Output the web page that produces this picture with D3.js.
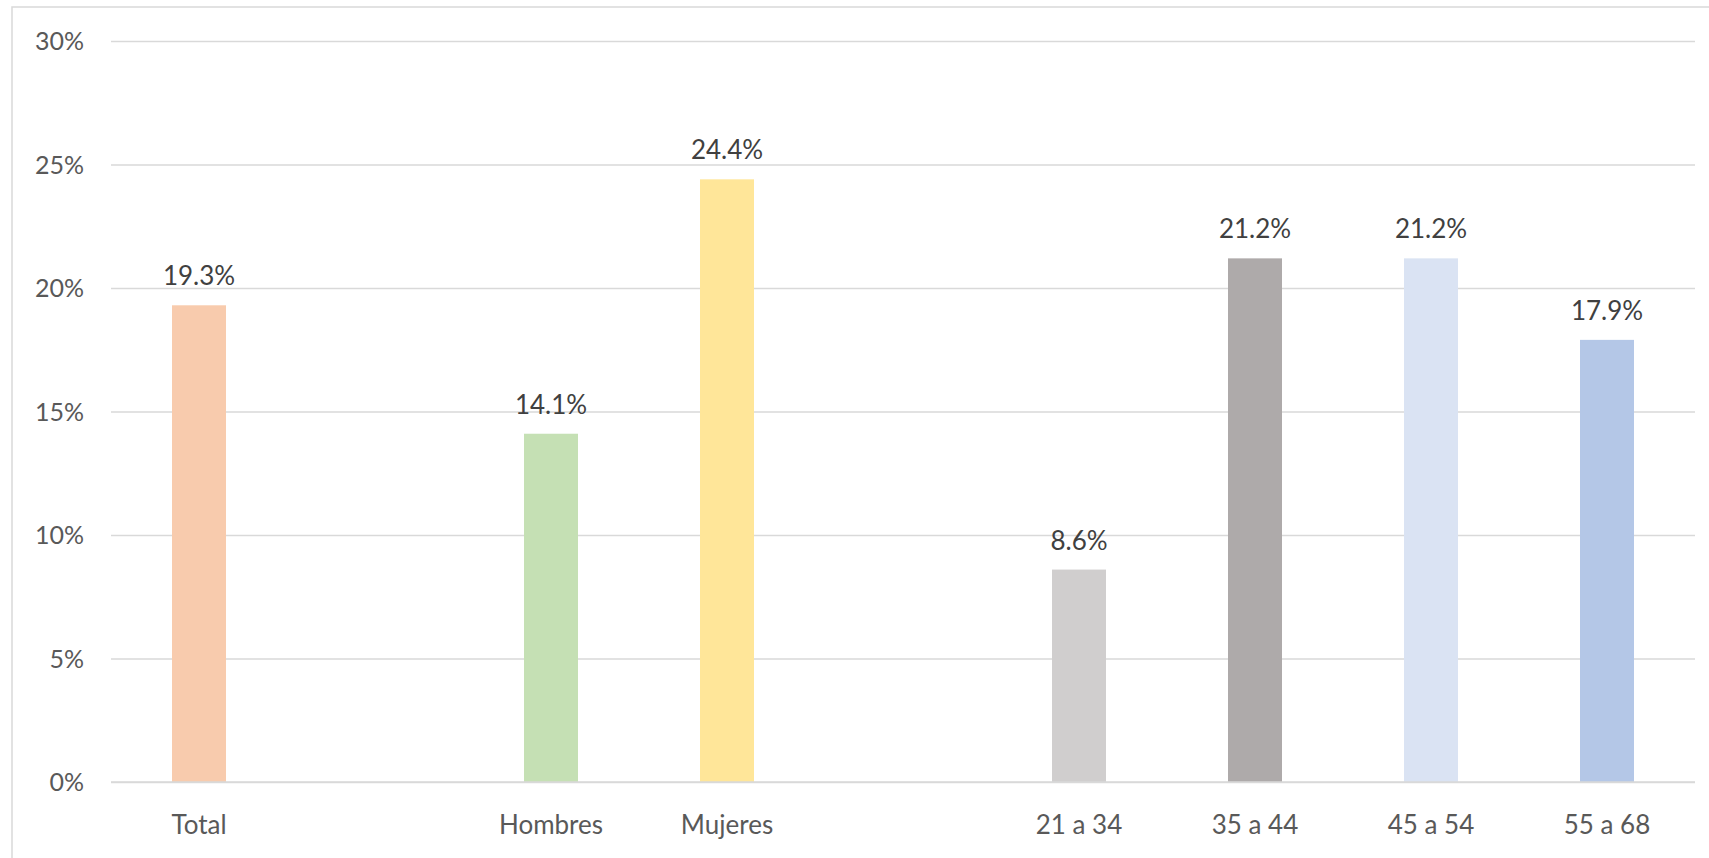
<!DOCTYPE html>
<html>
<head>
<meta charset="utf-8">
<script src="https://cdn.jsdelivr.net/npm/d3@7/dist/d3.min.js"></script>
<style>
  html, body { margin: 0; padding: 0; background: #fff; }
  svg { display: block; }
  text { font-family: Lato, "Open Sans", sans-serif; }
</style>
</head>
<body>
<svg id="chart" width="1709" height="858"></svg>
<script>
// Slots on the category axis (gap slots are the spaces between groups)
const slots = ["Total", "gap1", "Hombres", "Mujeres", "gap2", "21 a 34", "35 a 44", "45 a 54", "55 a 68"];
const categories = ["Total", "Hombres", "Mujeres", "21 a 34", "35 a 44", "45 a 54", "55 a 68"];
const values = [19.3, 14.1, 24.4, 8.6, 21.2, 21.2, 17.9];
const colors = ["#F8CBAD", "#C5E0B4", "#FFE699", "#D0CECE", "#AEAAAA", "#DAE3F3", "#B4C7E7"];
const yTicks = [0, 5, 10, 15, 20, 25, 30];

const svg = d3.select("#chart");
const W = 1709, H = 858;

// outer chart-area border (extends past right and bottom edges)
svg.append("rect")
  .attr("x", 12).attr("y", 7)
  .attr("width", W + 20).attr("height", H + 20)
  .attr("fill", "#fff").attr("stroke", "#d9d9d9").attr("stroke-width", 1.5);

const plot = { left: 111, right: 1695, top: 41, bottom: 782 };

const x = d3.scaleBand().domain(slots).range([plot.left, plot.right]).paddingInner(0).paddingOuter(0);
const y = d3.scaleLinear().domain([0, 30]).range([plot.bottom, plot.top]);

// gridlines + y labels via axis
const yAxis = d3.axisLeft(y)
  .tickValues(yTicks)
  .tickFormat(d => d + "%")
  .tickSize(-(plot.right - plot.left))
  .tickPadding(27);

const gy = svg.append("g").attr("transform", `translate(${plot.left},0)`).call(yAxis);
gy.select(".domain").remove();
gy.selectAll(".tick line").attr("stroke", "#d9d9d9").attr("stroke-width", 1.5);
gy.selectAll(".tick text")
  .attr("fill", "#595959")
  .style("font-size", "25px")
  .attr("dy", "0.35em");

// bars
const bw = 54;
const data = categories.map((c, i) => ({ c, v: values[i], col: colors[i] }));

svg.append("g").selectAll("rect")
  .data(data).join("rect")
  .attr("x", d => x(d.c) + x.bandwidth() / 2 - bw / 2)
  .attr("width", bw)
  .attr("y", d => y(d.v))
  .attr("height", d => y(0) - y(d.v))
  .attr("fill", d => d.col);

// x axis baseline
svg.append("line")
  .attr("x1", plot.left).attr("x2", plot.right)
  .attr("y1", y(0)).attr("y2", y(0))
  .attr("stroke", "#d9d9d9").attr("stroke-width", 1.5);

// value labels
svg.append("g").selectAll("text")
  .data(data).join("text")
  .attr("x", d => x(d.c) + x.bandwidth() / 2)
  .attr("y", d => y(d.v) - 20)
  .attr("text-anchor", "middle")
  .attr("fill", "#404040")
  .style("font-size", "26px")
  .text(d => d.v.toFixed(1) + "%");

// category labels via bottom axis
const xAxis = d3.axisBottom(x)
  .tickFormat(d => categories.includes(d) ? d : "")
  .tickSize(0)
  .tickPadding(34);
const gx = svg.append("g").attr("transform", `translate(0,${plot.bottom})`).call(xAxis);
gx.select(".domain").remove();
gx.selectAll(".tick text")
  .attr("fill", "#595959")
  .style("font-size", "26px");
</script>
</body>
</html>
